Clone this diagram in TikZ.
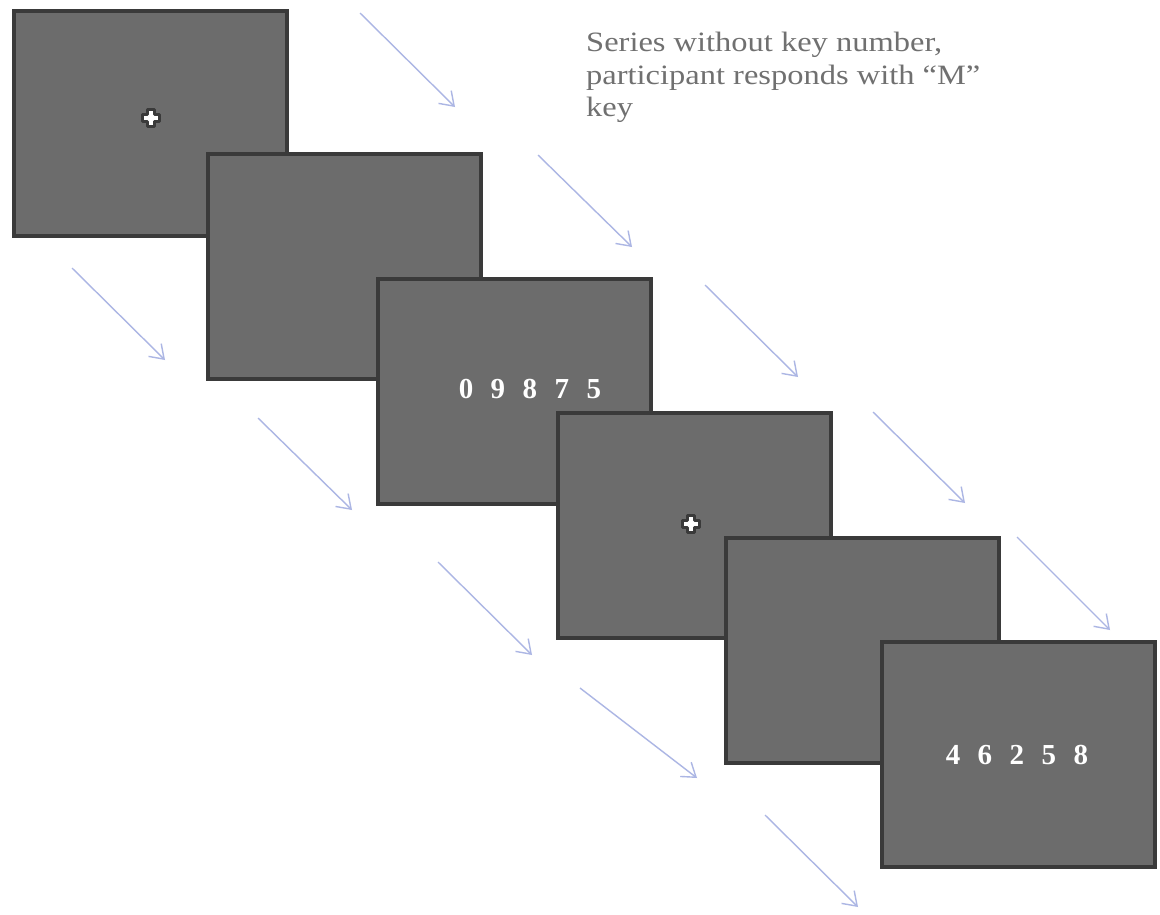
\documentclass[tikz,border=0pt]{standalone}
\usepackage{fontspec}
\setmainfont{Liberation Serif}
\usetikzlibrary{arrows.meta,calc}
\definecolor{boxfill}{RGB}{108,108,108}
\definecolor{boxedge}{RGB}{58,58,58}
\definecolor{arrowcol}{RGB}{172,182,228}
\definecolor{labelcol}{RGB}{112,112,112}
\tikzset{
  screen/.style={draw=boxedge, fill=boxfill, line width=4pt, minimum width=273pt, minimum height=225pt, inner sep=0pt, rectangle},
  flow/.style={draw=arrowcol, line width=1.4pt, -{Straight Barb[length=13pt,width=18pt,line width=1.4pt]}},
  digits/.style={text=white, font=\fontsize{29}{34}\selectfont\bfseries, inner sep=0pt},
  crossanchor/.style={inner sep=0pt, minimum size=0pt},
  crossmark/.style={fill=white, draw=boxedge, line width=3pt, line join=round},
}
\newcommand{\fixcross}[2]{%
  \node[crossanchor] (#2) at #1 {};
  \filldraw[crossmark] ($(#2)+(-8.5,-3.5)$) -- ($(#2)+(-3.5,-3.5)$) -- ($(#2)+(-3.5,-8.5)$) -- ($(#2)+(3.5,-8.5)$)
    -- ($(#2)+(3.5,-3.5)$) -- ($(#2)+(8.5,-3.5)$) -- ($(#2)+(8.5,3.5)$) -- ($(#2)+(3.5,3.5)$) -- ($(#2)+(3.5,8.5)$)
    -- ($(#2)+(-3.5,8.5)$) -- ($(#2)+(-3.5,3.5)$) -- ($(#2)+(-8.5,3.5)$) -- cycle;
}
\begin{document}
\begin{tikzpicture}[x=1pt,y=-1pt]
\useasboundingbox[fill=white] (0,0) rectangle (1160,914);
% arrows (upper series)
\coordinate (u1s) at (360,13);  \coordinate (u1e) at (455,107);
\coordinate (u2s) at (538,155); \coordinate (u2e) at (632,247);
\coordinate (u3s) at (705,285); \coordinate (u3e) at (798,377);
\coordinate (u4s) at (873,412); \coordinate (u4e) at (965,503);
\coordinate (u5s) at (1017,537); \coordinate (u5e) at (1110,630);
% arrows (lower series)
\coordinate (l1s) at (72,268);  \coordinate (l1e) at (165,360);
\coordinate (l2s) at (258,418); \coordinate (l2e) at (352,510);
\coordinate (l3s) at (438,562); \coordinate (l3e) at (532,655);
\coordinate (l4s) at (580,688); \coordinate (l4e) at (697,778);
\coordinate (l5s) at (765,815); \coordinate (l5e) at (858,907);
\foreach \a in {u1,u2,u3,u4,u5,l1,l2,l3,l4,l5}{
  \draw[flow] (\a s) -- (\a e);
}
% screens
\node[screen] (s1) at (150,123) {};
\fixcross{(151,118)}{c1}
\node[screen] (s2) at (344,266) {};
\node[screen] (s3) at (514.5,391.5) {};
\node[digits,anchor=center] (d3) at (530,389) {\spaceskip=17.5pt 0 9 8 7 5};
\node[screen] (s4) at (694,525) {};
\fixcross{(691,524)}{c4}
\node[screen] (s5) at (862.5,650.5) {};
\node[screen] (s6) at (1018.5,754.5) {};
\node[digits,anchor=center] (d6) at (1017,755) {\spaceskip=17.5pt 4 6 2 5 8};
% label
\node[anchor=north west, inner sep=0pt, text=labelcol,
      font=\fontsize{28}{32.5}\selectfont] (lbl) at (586,29)
  {\scalebox{1.16}[1]{\begin{tabular}{@{}l@{}}Series without key number,\\participant responds with ``M''\\key\end{tabular}}};
\end{tikzpicture}
\end{document}
